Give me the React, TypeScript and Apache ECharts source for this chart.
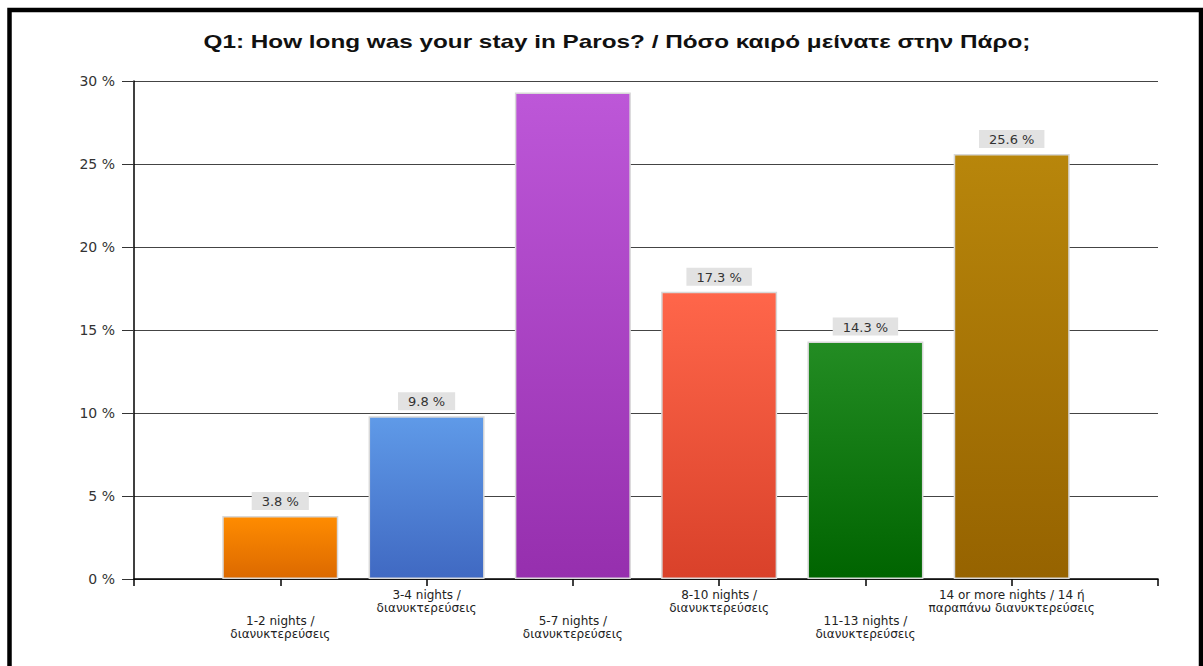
import React, { useEffect, useRef } from "react";
import * as echarts from "echarts";

const titleText = "Q1: How long was your stay in Paros? / Πόσο καιρό μείνατε στην Πάρο;";
const categories = [
  "1-2 nights /\nδιανυκτερεύσεις",
  "3-4 nights /\nδιανυκτερεύσεις",
  "5-7 nights /\nδιανυκτερεύσεις",
  "8-10 nights /\nδιανυκτερεύσεις",
  "11-13 nights /\nδιανυκτερεύσεις",
  "14 or more nights / 14 ή\nπαραπάνω διανυκτερεύσεις",
];
const values = [3.8, 9.8, 29.3, 17.3, 14.3, 25.6];
const labelShown = [true, true, false, true, true, true];
const colorsTop = ["#ff8c00", "#5f9ae8", "#bd57d8", "#ff664a", "#238c23", "#b8860b"];
const colorsBottom = ["#dc6900", "#4069c2", "#962fae", "#d9412a", "#006400", "#966300"];
const yTicks = { min: 0, max: 30, interval: 5 };

export default function App() {
  const ref = useRef<HTMLDivElement>(null);
  useEffect(() => {
    if (!ref.current) return;
    const chart = echarts.init(ref.current, null, { renderer: "svg" });
    const axisData = ["", ...categories, ""];
    const seriesData: any[] = ["-"];
    values.forEach((v, i) => {
      seriesData.push({
        value: v,
        label: { show: labelShown[i] },
        itemStyle: {
          color: new echarts.graphic.LinearGradient(0, 0, 0, 1, [
            { offset: 0, color: colorsTop[i] },
            { offset: 1, color: colorsBottom[i] },
          ]),
        },
      });
    });
    seriesData.push("-");
    chart.setOption({
      animation: false,
      backgroundColor: "#ffffff",
      grid: { left: 134, right: 45, top: 81, bottom: 87, containLabel: false },
      xAxis: {
        type: "category",
        data: axisData,
        boundaryGap: false,
        axisLine: { show: true, lineStyle: { color: "#000", width: 1.5 } },
        axisTick: { show: true, length: 7, alignWithLabel: true, lineStyle: { color: "#000", width: 1.5 } },
        axisLabel: {
          interval: 0,
          margin: 9,
          fontFamily: "DejaVu Sans",
          fontSize: 12,
          lineHeight: 13,
          color: "#222",
          formatter: (val: string, idx: number) => {
            if (!val) return "";
            return idx % 2 === 1 ? "\n\n" + val : val;
          },
        },
        splitLine: { show: false },
      },
      yAxis: {
        type: "value",
        min: yTicks.min,
        max: yTicks.max,
        interval: yTicks.interval,
        axisLine: { show: true, lineStyle: { color: "#000", width: 1.5 } },
        axisTick: { show: true, length: 12, lineStyle: { color: "#333", width: 1 } },
        axisLabel: {
          margin: 19,
          fontFamily: "DejaVu Sans",
          fontSize: 14,
          color: "#333",
          formatter: "{value} %",
        },
        splitLine: { show: true, lineStyle: { color: "#444", width: 1 } },
      },
      series: [
        {
          type: "bar",
          data: seriesData,
          barWidth: 116,
          itemStyle: { borderColor: "#d8d8d8", borderWidth: 1.5 },
          label: {
            show: true,
            position: "top",
            distance: 6,
            formatter: "{c} %",
            fontFamily: "DejaVu Sans",
            fontSize: 13,
            color: "#333",
            backgroundColor: "#e2e2e2",
            padding: [3, 10, 2, 10],
          },
        },
      ],
      graphic: [
        {
          type: "text",
          x: 617,
          y: 42,
          scaleX: 1.35,
          silent: true,
          style: {
            text: titleText,
            font: 'bold 18px "Liberation Sans"',
            fill: "#111",
            textAlign: "center",
            textVerticalAlign: "middle",
          },
        },
        {
          type: "rect",
          shape: { x: 9.5, y: 10, width: 1191.5, height: 700 },
          style: { fill: "none", stroke: "#000", lineWidth: 4.5 },
          silent: true,
        },
      ],
    });
    return () => chart.dispose();
  }, []);
  return (
    <div
      ref={ref}
      style={{ position: "absolute", left: 0, top: 0, width: 1203, height: 666 }}
    />
  );
}
